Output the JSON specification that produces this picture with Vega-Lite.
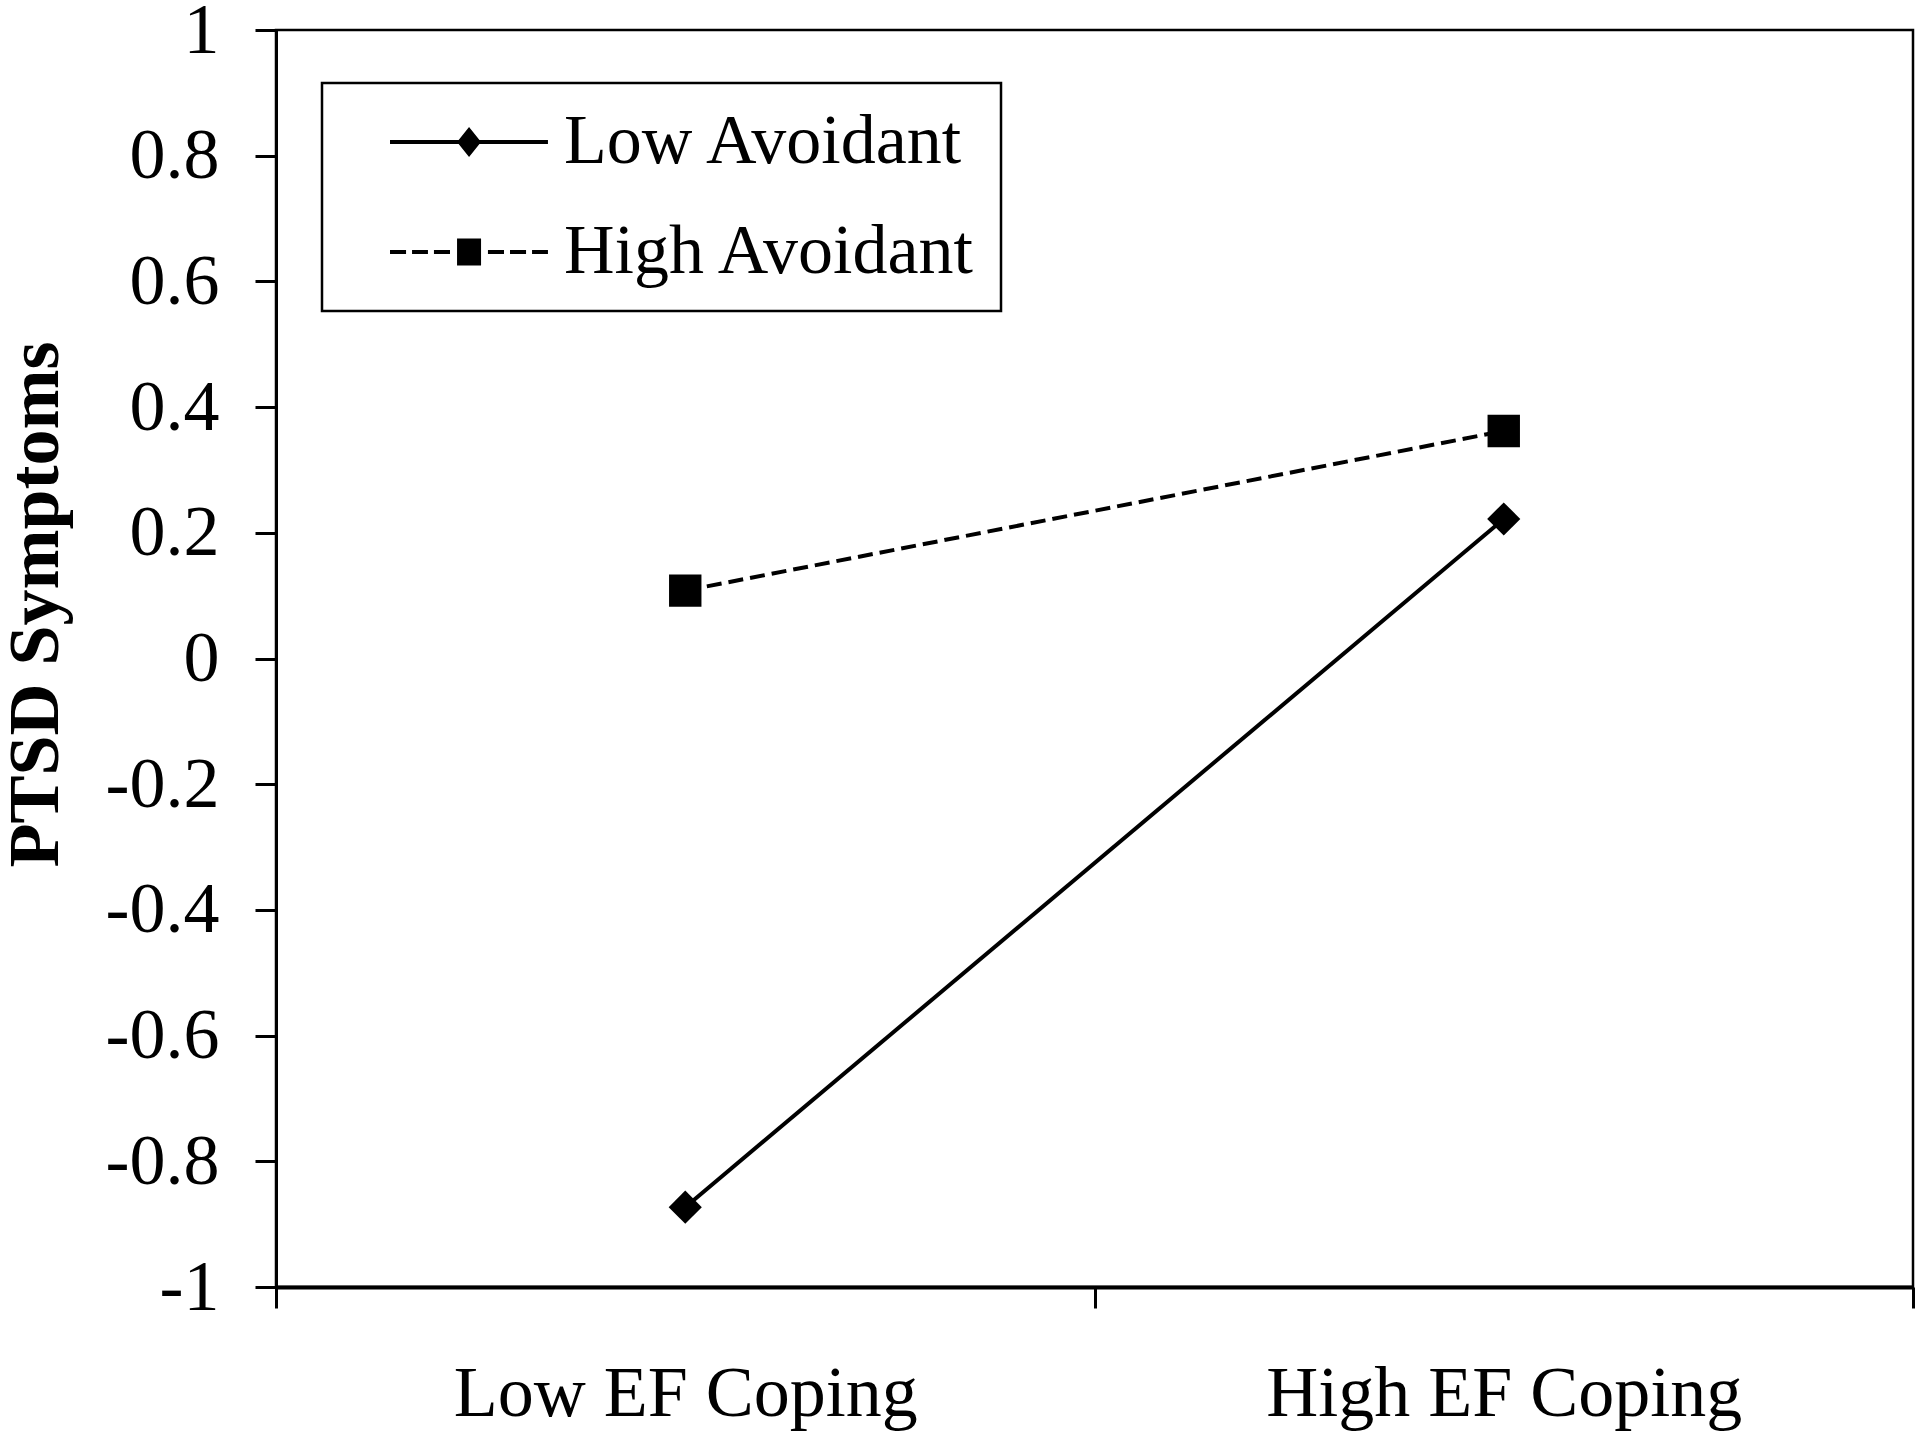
{
  "$schema": "https://vega.github.io/schema/vega-lite/v6.json",
  "autosize": {"type": "none"},
  "padding": {"left": 276, "top": 30, "right": 7, "bottom": 148},
  "width": 1637,
  "height": 1257,
  "background": "white",
  "config": {
    "font": "Liberation Serif",
    "view": {"stroke": "black", "strokeWidth": 2.5},
    "legend": {"strokeWidth": 2.5},
    "axis": {"domainColor": "black", "tickColor": "black", "labelColor": "black", "titleColor": "black", "grid": false, "labelFont": "Liberation Serif", "titleFont": "Liberation Serif"}
  },
  "data": {
    "values": [
      {"coping": "Low EF Coping", "group": "Low Avoidant", "value": -0.873},
      {"coping": "High EF Coping", "group": "Low Avoidant", "value": 0.222},
      {"coping": "Low EF Coping", "group": "High Avoidant", "value": 0.108},
      {"coping": "High EF Coping", "group": "High Avoidant", "value": 0.362}
    ]
  },
  "encoding": {
    "x": {
      "field": "coping", "type": "nominal",
      "sort": ["Low EF Coping", "High EF Coping"],
      "scale": {"type": "band", "paddingInner": 0, "paddingOuter": 0},
      "axis": {"title": null, "labelAngle": 0, "labelFontSize": 72, "labelPadding": 50, "labelLimit": 1000, "tickSize": 21, "tickWidth": 3, "domainWidth": 4, "tickBand": "extent"}
    },
    "y": {
      "field": "value", "type": "quantitative",
      "scale": {"domain": [-1, 1], "nice": false, "zero": false},
      "axis": {
        "title": "PTSD Symptoms", "titleFontSize": 72, "titleFontWeight": "bold",
        "titleX": -241, "titleY": 574, "titleBaseline": "middle", "titleAngle": -90,
        "values": [-1, -0.8, -0.6, -0.4, -0.2, 0, 0.2, 0.4, 0.6, 0.8, 1],
        "labelExpr": "datum.value < 0 ? '-' + format(-datum.value, '~g') : format(datum.value, '~g')",
        "labelFontSize": 72, "labelPadding": 36, "tickSize": 21, "tickWidth": 3, "domainWidth": 3
      }
    }
  },
  "layer": [
    {
      "transform": [{"filter": "datum.group == 'Low Avoidant'"}],
      "mark": {"type": "line", "color": "black", "strokeWidth": 4}
    },
    {
      "transform": [{"filter": "datum.group == 'High Avoidant'"}],
      "mark": {"type": "line", "color": "black", "strokeWidth": 4, "strokeDash": [15, 7]}
    },
    {
      "transform": [{"filter": "datum.value > 1"}],
      "mark": {"type": "point", "filled": true, "color": "black", "opacity": 1},
      "encoding": {
        "shape": {
          "field": "group", "type": "nominal",
          "scale": {
            "domain": ["Low Avoidant", "High Avoidant"],
            "range": [
              "M0.6,-0.13H11.13V0.13H0.6ZM5.87,-1L6.67,0L5.87,1L5.07,0Z",
              "M0.6,-0.13H1.67V0.13H0.6ZM2.07,-0.13H3.13V0.13H2.07ZM3.53,-0.13H4.6V0.13H3.53ZM5.07,-0.9H6.67V0.9H5.07ZM7.13,-0.13H8.2V0.13H7.13ZM8.6,-0.13H9.67V0.13H8.6ZM10.07,-0.13H11.13V0.13H10.07Z"
            ]
          },
          "legend": {
            "title": null, "orient": "none", "legendX": 46, "legendY": 53,
            "strokeColor": "black", "fillColor": "white", "padding": 24,
            "labelFontSize": 70, "labelFont": "Liberation Serif", "labelColor": "black", "labelLimit": 1000,
            "labelOffset": 148, "rowPadding": 40, "symbolSize": 900,
            "symbolFillColor": "black", "symbolStrokeColor": "black", "symbolOpacity": 1
          }
        }
      }
    },
    {
      "transform": [{"filter": "datum.group == 'Low Avoidant'"}],
      "mark": {"type": "point", "shape": "diamond", "filled": true, "color": "black", "opacity": 1, "size": 1100}
    },
    {
      "transform": [{"filter": "datum.group == 'High Avoidant'"}],
      "mark": {"type": "point", "shape": "square", "filled": true, "color": "black", "opacity": 1, "size": 1050}
    }
  ]
}
